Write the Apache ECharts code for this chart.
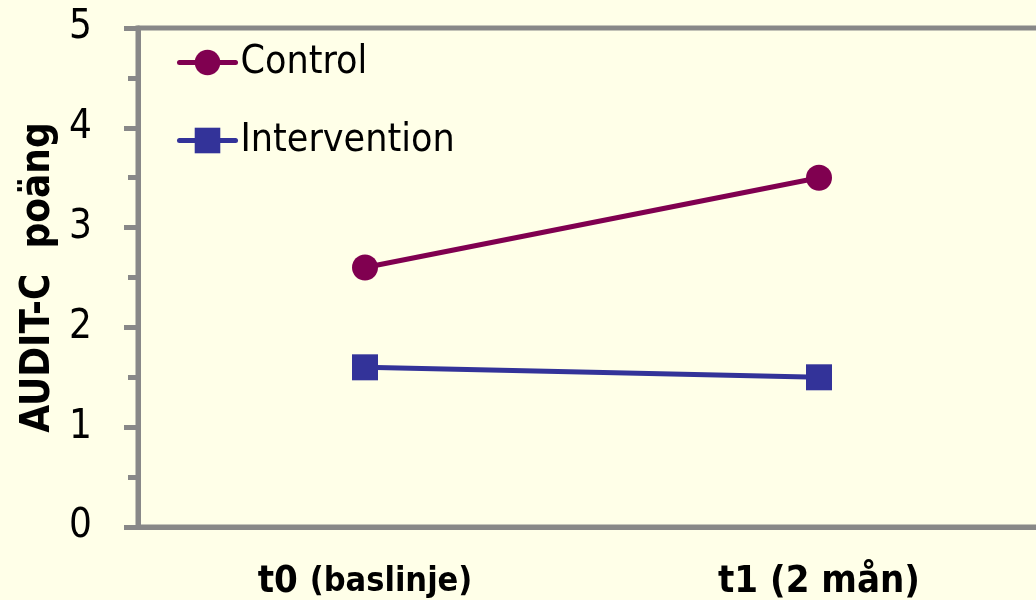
<!DOCTYPE html>
<html><head><meta charset="utf-8">
<script src="https://cdn.jsdelivr.net/npm/echarts@6/dist/echarts.min.js"></script>
<style>html,body{margin:0;padding:0;background:#FFFFE8;}#c{width:1036px;height:600px;}</style>
</head><body><div id="c"></div>
<script>
const categories = ['t0 (baslinje)', 't1 (2 mån)'];
const controlValues = [2.6, 3.5];
const interventionValues = [1.6, 1.5];
const seriesNames = ['Control', 'Intervention'];
const yTitle = 'AUDIT-C  poäng';

const FONT = '"Liberation Sans Narrow", "DejaVu Sans Condensed", "Liberation Sans", sans-serif';
const chart = echarts.init(document.getElementById('c'));
chart.setOption({
  backgroundColor: '#FFFFE8',
  animation: false,
  grid: { left: 138, width: 908, top: 28, bottom: 73, outerBoundsMode: 'none', containLabel: false,
          show: true, borderColor: '#888888', borderWidth: 5, backgroundColor: 'transparent' },
  legend: {
    left: 172, top: 38, orient: 'vertical', itemWidth: 56, itemHeight: 32, itemGap: 39,
    lineStyle: { width: 5, cap: 'round' },
    textStyle: { fontFamily: FONT, fontSize: 39, color: '#000', padding: [0,0,0,0] },
    data: seriesNames
  },
  xAxis: {
    type: 'category', data: categories, boundaryGap: true,
    axisLine: { lineStyle: { color: '#888888', width: 5 } },
    axisTick: { show: false },
    axisLabel: {
      margin: 36, color: '#000', fontFamily: FONT,
      formatter: function (v) {
        const i = v.indexOf(' ');
        const a = v.slice(0, i), b = v.slice(i + 1);
        if (b.indexOf('baslinje') >= 0) return '{big|' + a + ' }{small|' + b + '}';
        return '{big|' + a + ' ' + b + '}';
      },
      rich: {
        big: { fontSize: 38, fontWeight: 'bold', fontFamily: FONT, color: '#000' },
        small: { fontSize: 34, fontWeight: 'bold', fontFamily: FONT, color: '#000' }
      }
    }
  },
  yAxis: {
    type: 'value', min: 0, max: 5, interval: 1,
    name: yTitle, nameLocation: 'middle', nameGap: 78,
    nameTextStyle: { fontFamily: FONT, fontSize: 40, fontWeight: 'bold', color: '#000' },
    axisLine: { show: true, lineStyle: { color: '#888888', width: 5 } },
    axisTick: { show: true, length: 14, lineStyle: { color: '#888888', width: 5 } },
    minorTick: { show: true, splitNumber: 2, length: 10, lineStyle: { color: '#888888', width: 5 } },
    splitLine: { show: false },
    axisLabel: { margin: 46, fontFamily: FONT, fontSize: 40, color: '#000' }
  },
  series: [
    { name: seriesNames[0], type: 'line', data: controlValues, symbol: 'circle', symbolSize: 26,
      lineStyle: { color: '#800050', width: 5 }, itemStyle: { color: '#800050' } },
    { name: seriesNames[1], type: 'line', data: interventionValues, symbol: 'rect', symbolSize: 26,
      lineStyle: { color: '#333399', width: 5 }, itemStyle: { color: '#333399' } }
  ]
});
</script></body></html>
